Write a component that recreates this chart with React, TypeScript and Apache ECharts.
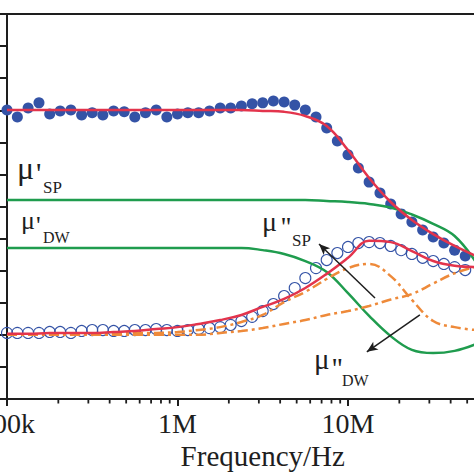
import React, { useEffect, useRef } from 'react';
import * as echarts from 'echarts';

// Measured frequencies (Hz) of the data points
const dotFreq = [
  1.00e5, 1.15e5, 1.33e5, 1.54e5, 1.78e5, 2.05e5, 2.37e5, 2.74e5, 3.16e5, 3.65e5, 4.22e5, 4.87e5, 5.62e5, 6.49e5, 7.50e5, 8.66e5,
  1.00e6, 1.15e6, 1.33e6, 1.54e6, 1.78e6, 2.05e6, 2.37e6, 2.74e6, 3.16e6, 3.65e6, 4.22e6, 4.87e6, 5.62e6, 6.49e6, 7.50e6, 8.66e6,
  1.00e7, 1.15e7, 1.33e7, 1.54e7, 1.78e7, 2.05e7, 2.37e7, 2.74e7, 3.16e7, 3.65e7, 4.22e7, 4.87e7,
];
// μ' measured (filled dots)
const muRealMeasured = [
  9.01, 8.79, 9.07, 9.23, 8.88, 8.98, 9.01, 8.85, 8.92, 8.85, 8.98, 8.95, 8.79, 8.92, 9.01, 8.79,
  8.88, 8.92, 8.92, 8.98, 9.07, 9.07, 9.13, 9.20, 9.23, 9.29, 9.26, 9.16, 9.01, 8.79, 8.45, 8.04,
  7.61, 7.20, 6.76, 6.42, 6.08, 5.77, 5.52, 5.27, 5.05, 4.86, 4.64, 4.46,
];
// μ'' measured (open circles)
const muImagMeasured = [
  2.06, 2.06, 2.06, 2.06, 2.09, 2.09, 2.06, 2.12, 2.15, 2.15, 2.12, 2.12, 2.15, 2.15, 2.18, 2.15,
  2.12, 2.15, 2.18, 2.21, 2.24, 2.31, 2.43, 2.56, 2.74, 2.96, 3.21, 3.46, 3.77, 4.08, 4.33, 4.55,
  4.74, 4.86, 4.89, 4.86, 4.77, 4.64, 4.52, 4.40, 4.30, 4.21, 4.11, 4.02,
];

// Frequencies of the fitted curves
const fitFreq = [
  1.00e5, 1.33e5, 1.78e5, 2.37e5, 3.16e5, 4.22e5, 5.62e5, 7.50e5,
  1.00e6, 1.33e6, 1.78e6, 2.37e6, 3.16e6, 4.22e6, 5.62e6, 7.50e6,
  1.00e7, 1.33e7, 1.78e7, 2.37e7, 3.16e7, 4.22e7, 5.62e7,
];
const muRealFit = [
  9.01, 9.01, 9.01, 9.01, 9.01, 9.01, 9.01, 9.01, 9.01, 9.01, 9.01, 9.01,
  8.98, 8.95, 8.82, 8.51, 7.76, 6.89, 6.14, 5.58, 5.14, 4.77, 4.46,
];
const muRealSP = [
  6.20, 6.20, 6.20, 6.20, 6.20, 6.20, 6.20, 6.20, 6.20, 6.20, 6.20, 6.20, 6.20, 6.20, 6.20,
  6.17, 6.14, 6.08, 5.97, 5.75, 5.46, 5.08, 4.27,
];
const muRealDW = [
  4.71, 4.71, 4.71, 4.71, 4.71, 4.71, 4.71, 4.71, 4.71, 4.71, 4.71, 4.71,
  4.64, 4.52, 4.30, 3.96, 3.30, 2.59, 1.96, 1.53, 1.43, 1.50, 1.71,
];
const muImagFit = [
  2.03, 2.03, 2.06, 2.06, 2.06, 2.09, 2.12, 2.18, 2.24, 2.34, 2.46, 2.62,
  2.87, 3.12, 3.46, 3.90, 4.40, 4.93, 4.89, 4.61, 4.30, 4.15, 4.11,
];
const muImagDW = [
  2.00, 2.00, 2.00, 2.03, 2.03, 2.03, 2.06, 2.06, 2.09, 2.15, 2.24, 2.40,
  2.62, 3.02, 3.34, 3.74, 4.08, 4.21, 3.83, 3.09, 2.43, 2.24, 2.15,
];
const muImagSP = [
  2.00, 2.00, 2.00, 2.00, 2.00, 2.00, 2.00, 2.00, 2.00, 2.00, 2.06, 2.12,
  2.21, 2.34, 2.46, 2.62, 2.74, 2.90, 3.10, 3.27, 3.60, 3.92, 4.12,
];

// Axis ticks (the 100M label lies outside the visible crop)
const xTickLabels = ['100k', '1M', '10M', ''];
const minorTickFreq = [
  2e5, 3e5, 4e5, 5e5, 6e5, 7e5, 8e5, 9e5,
  2e6, 3e6, 4e6, 5e6, 6e6, 7e6, 8e6, 9e6,
  2e7, 3e7, 4e7, 5e7, 6e7, 7e7, 8e7, 9e7,
];

// Annotation arrows [from, to] in data coordinates
const arrowSP = [[1.44e7, 3.15], [6.76e6, 4.83]];
const arrowDW = [[2.64e7, 2.62], [1.29e7, 1.47]];

const BLUE = '#3453a6';
const RED = '#e3344c';
const GREEN = '#1f9c4e';
const ORANGE = '#ee8a3a';
const INK = '#1e1e1e';
const SERIF = 'Liberation Serif';

const CW = 560;
const CH = 474;

const pair = (xs: number[], ys: number[]) => xs.map((x, i) => [x, ys[i]]);

// text annotation placed by left edge and vertical middle
function lbl(text: string, x: number, yMid: number, size: number) {
  return {
    text,
    left: x,
    top: yMid - size / 2,
    padding: 0,
    itemGap: 0,
    textStyle: { fontFamily: SERIF, fontSize: size, fontWeight: 'normal', color: INK, lineHeight: size },
  };
}

export default function App() {
  const ref = useRef<HTMLDivElement>(null);

  useEffect(() => {
    if (!ref.current) return;
    const chart = echarts.init(ref.current, null, { renderer: 'svg' });

    const lineSeries = (name: string, xs: number[], ys: number[], color: string, dashed: boolean, extra: any = {}) => ({
      name,
      type: 'line',
      data: pair(xs, ys),
      smooth: 0.4,
      showSymbol: false,
      symbol: 'none',
      silent: true,
      lineStyle: { color, width: 2.5, type: dashed ? [10, 4, 3, 4] : 'solid' },
      ...extra,
    });

    const option: any = {
      animation: false,
      backgroundColor: '#ffffff',
      textStyle: { fontFamily: SERIF },
      title: [
        lbl('μ', 17, 168, 32),
        lbl("'", 36, 172, 30),
        lbl('SP', 43, 187, 17),
        lbl('μ', 21, 220.5, 26),
        lbl("'", 36, 225.5, 26),
        lbl('DW', 43, 237.5, 16),
        lbl('μ', 262, 221.5, 28),
        lbl("''", 281, 226.5, 28),
        lbl('SP', 292, 240, 17),
        lbl('μ', 314, 359, 29),
        lbl("''", 332, 368, 29),
        lbl('DW', 342, 380.5, 16),
      ],
      grid: {
        left: 7,
        top: 14,
        right: CW - 518.5,
        bottom: CH - 399,
        outerBoundsMode: 'none',
        containLabel: false,
        show: true,
        borderColor: INK,
        borderWidth: 2,
        backgroundColor: 'transparent',
      },
      xAxis: {
        type: 'log',
        logBase: 10,
        min: 1e5,
        max: 1e8,
        name: 'Frequency/Hz',
        nameLocation: 'middle',
        nameGap: 42,
        nameTextStyle: { fontFamily: SERIF, fontSize: 29, color: INK },
        axisLine: { show: true, lineStyle: { color: INK, width: 2 } },
        axisTick: { show: true, inside: false, length: 7, lineStyle: { color: INK, width: 2 } },
        axisLabel: {
          show: true,
          margin: 10,
          fontFamily: SERIF,
          fontSize: 28,
          color: INK,
          showMinLabel: true,
          showMaxLabel: true,
          formatter: (v: number) => xTickLabels[Math.round(Math.log10(v)) - 5] ?? '',
        },
        splitLine: { show: false },
        minorTick: { show: false },
      },
      yAxis: {
        type: 'value',
        min: 0,
        max: 12,
        interval: 1,
        axisLine: { show: true, lineStyle: { color: INK, width: 2 } },
        axisTick: { show: true, inside: false, length: 7, lineStyle: { color: INK, width: 2 } },
        axisLabel: { show: false },
        splitLine: { show: false },
      },
      series: [
        {
          name: 'minorTicks',
          type: 'custom',
          silent: true,
          clip: false,
          data: minorTickFreq.map((f) => [f, 0]),
          renderItem: (_p: any, api: any) => {
            const pt = api.coord([api.value(0), 0]);
            return {
              type: 'line',
              shape: { x1: pt[0], y1: pt[1], x2: pt[0], y2: pt[1] + 4.5 },
              style: { stroke: INK, lineWidth: 1.8 },
            };
          },
        },
        {
          name: "μ' data",
          type: 'scatter',
          silent: true,
          symbol: 'circle',
          symbolSize: 11,
          data: pair(dotFreq, muRealMeasured),
          itemStyle: { color: BLUE, opacity: 1 },
        },
        {
          name: "μ'' data",
          type: 'scatter',
          silent: true,
          symbol: 'circle',
          symbolSize: 11,
          data: pair(dotFreq, muImagMeasured),
          itemStyle: { color: 'rgba(255,255,255,0)', borderColor: BLUE, borderWidth: 1.1, opacity: 1 },
        },
        lineSeries("μ'SP", fitFreq, muRealSP, GREEN, false),
        lineSeries("μ'DW", fitFreq, muRealDW, GREEN, false),
        lineSeries("μ''DW", fitFreq, muImagDW, ORANGE, true),
        lineSeries("μ''SP", fitFreq, muImagSP, ORANGE, true),
        lineSeries("μ' fit", fitFreq, muRealFit, RED, false),
        lineSeries("μ'' fit", fitFreq, muImagFit, RED, false, {
          markLine: {
            silent: true,
            animation: false,
            symbol: ['none', 'arrow'],
            symbolSize: [7, 11],
            label: { show: false },
            lineStyle: { color: INK, width: 1.5, type: 'solid' },
            emphasis: { disabled: true },
            data: [
              [{ coord: arrowSP[0] }, { coord: arrowSP[1] }],
              [{ coord: arrowDW[0] }, { coord: arrowDW[1] }],
            ],
          },
        }),
      ],
    };

    chart.setOption(option);
    return () => chart.dispose();
  }, []);

  return (
    <div
      style={{
        position: 'fixed',
        left: 0,
        top: 0,
        width: 474,
        height: 474,
        overflow: 'hidden',
        background: '#ffffff',
      }}
    >
      <div ref={ref} style={{ width: CW, height: CH }} />
    </div>
  );
}
